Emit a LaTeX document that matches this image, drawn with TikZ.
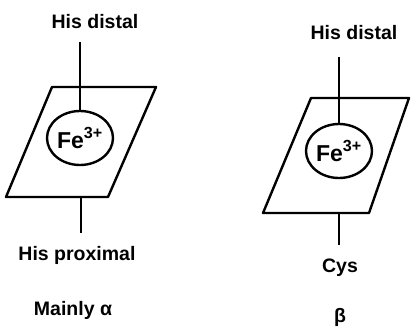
\documentclass[tikz,border=0pt]{standalone}
\usepackage{fontspec}
\setmainfont{Liberation Sans}
\usetikzlibrary{shapes.geometric}
\begin{document}
\begin{tikzpicture}[x=1pt,y=-1pt,line width=2.4pt,line join=round,
  lbl/.style={font=\bfseries\fontsize{19.5}{22}\selectfont,inner sep=0pt},
  feion/.style={draw,ellipse,minimum width=66pt,minimum height=54pt,inner sep=0pt,
    font=\bfseries\fontsize{23}{25}\selectfont}]
\useasboundingbox (0,0) rectangle (412,330);
% left
\node[lbl] (hd1) at (95,22) {His distal};
\coordinate (t1) at (80,42);
\node[feion] (fe1) at (80,138) {Fe\textsuperscript{3+}};
\coordinate (p1a) at (52,87); \coordinate (p1b) at (156,87);
\coordinate (p1c) at (108,197); \coordinate (p1d) at (6,197);
\draw (p1a) -- (p1b) -- (p1c) -- (p1d) -- cycle;
\coordinate (b1) at (81,197); \coordinate (e1) at (81,233);
\draw (t1) -- (fe1.north);
\draw (b1) -- (e1);
\node[lbl] (hp) at (77,255) {His proximal};
\node[lbl] (ma) at (73,310) {Mainly α};
% right
\node[lbl] (hd2) at (354,33) {His distal};
\coordinate (t2) at (339,57);
\node[feion] (fe2) at (339,151) {Fe\textsuperscript{3+}};
\coordinate (p2a) at (311,98); \coordinate (p2b) at (409,98);
\coordinate (p2c) at (369,213); \coordinate (p2d) at (263,213);
\draw (p2a) -- (p2b) -- (p2c) -- (p2d) -- cycle;
\coordinate (b2) at (339,213); \coordinate (e2) at (339,245);
\draw (t2) -- (fe2.north);
\draw (b2) -- (e2);
\node[lbl] (cy) at (340,268) {Cys};
\node[lbl] (be) at (340,317) {β};
\end{tikzpicture}
\end{document}
